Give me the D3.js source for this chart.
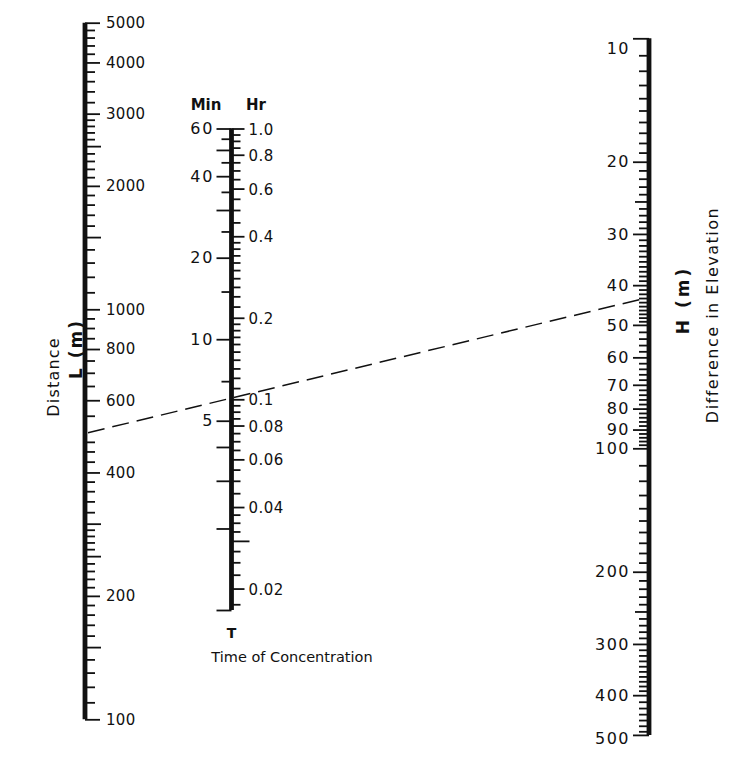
<!DOCTYPE html>
<html><head><meta charset="utf-8">
<script src="https://cdn.jsdelivr.net/npm/d3@7"></script>
<style>
html,body{margin:0;padding:0;background:#fff;}
text{font-family:"DejaVu Sans",sans-serif;fill:#111;}
</style></head><body>
<svg id="chart" width="750" height="773"></svg>
<script>
// ---------- DATA ----------
// Distance L (m)
const distanceLabels = [100, 200, 400, 600, 800, 1000, 2000, 3000, 4000, 5000];
const distanceMedium = [150, 250, 300, 1500, 2500];
const distanceMinor = [110,120,130,140,160,170,180,190,
  210,220,230,240,260,270,280,290,
  320,340,360,380, 425,450,475,
  550,650,700,750,850,900,950,
  1100,1200,1300,1400,1600,1700,1800,1900,
  2100,2200,2300,2400,2600,2700,2800,2900,
  3200,3400,3600,3800,4200,4400,4600,4800];
// Time of concentration T: minutes (left) and hours (right)
const minuteLabels = [5, 10, 20, 40, 60];
const minuteLong = [1, 2, 3, 4, 30, 50];
const minuteShort = [7, 15, 25, 35, 45, 55];
const hourLabels = [0.02, 0.04, 0.06, 0.08, 0.1, 0.2, 0.4, 0.6, 0.8, 1.0];
const hourLong = [0.03];
const hourMinor = [0.0175,0.0225,0.025,0.0275,0.0325,0.035,0.0375,
  0.045,0.05,0.055,0.065,0.07,0.075,0.085,0.09,0.095,
  0.11,0.12,0.13,0.14,0.15,0.16,0.17,0.18,0.19,
  0.22,0.24,0.26,0.28,0.30,0.32,0.34,0.36,0.38,
  0.45,0.5,0.55,0.65,0.7,0.75,0.85,0.9,0.95];
// Difference in elevation H (m)
const elevLabels = [10, 20, 30, 40, 50, 60, 70, 80, 90, 100, 200, 300, 400, 500];
const elevMedium = [25, 250];
const elevMinor = [11,12,13,14,15,16,17,18,19,
  21,22,23,24,26,27,28,29,
  31,32,33,34,35,36,37,38,39,
  41,42,43,44,45,46,47,48,49,
  52,54,56,58,62,64,66,68,72,74,76,78,82,84,86,88,92,94,96,98,
  110,120,130,140,150,160,170,180,190,
  210,220,230,240,260,270,280,290,
  310,320,330,340,350,360,370,380,390,
  415,430,445,460,475,490];
// Example solution line
const exampleL = 500;
const exampleH = 43;

// ---------- DRAW ----------
const svg = d3.select("#chart");
const xL = 85, xT = 231.5, xH = 649;

const lScale = d3.scaleLog().domain([100, 5000]).range([719.3, 22.7]);
const tScale = d3.scaleLog().domain([1, 60]).range([610, 128.5]);
const hScale = d3.scaleLog().domain([10, 500]).range([38.3, 734.9]);
const hrToMin = h => h * 60;

function ticks(axisFn, scale, values, x, len) {
  const g = svg.append("g").attr("transform", `translate(${x},0)`)
    .call(axisFn(scale).tickValues(values).tickSize(len).tickSizeOuter(0).tickFormat(""));
  g.select(".domain").remove();
  g.selectAll(".tick line").attr("stroke", "#111").attr("stroke-width", 1.8);
  return g;
}
function spine(x, scale, d0, d1, w) {
  svg.append("line").attr("x1", x).attr("x2", x)
    .attr("y1", scale(d0)).attr("y2", scale(d1))
    .attr("stroke", "#111").attr("stroke-width", w);
}

// L axis
spine(xL, lScale, 100, 5000, 4.8);
ticks(d3.axisRight, lScale, distanceMinor, xL, 10);
ticks(d3.axisRight, lScale, distanceMedium, xL, 16);
ticks(d3.axisRight, lScale, distanceLabels, xL, 15);
svg.append("g").selectAll("text").data(distanceLabels).join("text")
  .attr("x", xL + 21).attr("y", d => lScale(d)).attr("dy", "0.36em")
  .style("font-size", "15px").style("letter-spacing", "0.3px")
  .text(d => d);

// T axis
spine(xT, tScale, 1, 60, 4.8);
ticks(d3.axisLeft, tScale, minuteShort, xT, 10);
ticks(d3.axisLeft, tScale, minuteLong, xT, 15);
ticks(d3.axisLeft, tScale, minuteLabels, xT, 15);
ticks(d3.axisRight, tScale, hourMinor.map(hrToMin), xT, 9);
ticks(d3.axisRight, tScale, hourLong.map(hrToMin), xT, 18);
ticks(d3.axisRight, tScale, hourLabels.map(hrToMin), xT, 13);
svg.append("g").selectAll("text").data(minuteLabels).join("text")
  .attr("x", xT - 17).attr("y", d => tScale(d)).attr("dy", "0.36em")
  .attr("text-anchor", "end")
  .style("font-size", "16px").style("letter-spacing", "2px")
  .text(d => d);
svg.append("g").selectAll("text").data(hourLabels).join("text")
  .attr("x", xT + 17).attr("y", d => tScale(hrToMin(d))).attr("dy", "0.4em")
  .style("font-size", "15px").style("letter-spacing", "0.5px")
  .text(d => d3.format(".2~f")(d) === "1" ? "1.0" : String(d));
svg.append("text").attr("x", 206).attr("y", 110).attr("text-anchor", "middle")
  .style("font-size", "15px").style("font-weight", "bold").text("Min");
svg.append("text").attr("x", 256).attr("y", 110).attr("text-anchor", "middle")
  .style("font-size", "15px").style("font-weight", "bold").text("Hr");
svg.append("text").attr("x", xT).attr("y", 638).attr("text-anchor", "middle")
  .style("font-size", "14px").style("font-weight", "bold").text("T");
svg.append("text").attr("x", 292).attr("y", 662).attr("text-anchor", "middle")
  .style("font-size", "14.5px").text("Time of Concentration");

// H axis
spine(xH, hScale, 10, 500, 4.8);
ticks(d3.axisLeft, hScale, elevMinor, xH, 10);
ticks(d3.axisLeft, hScale, elevMedium, xH, 14);
ticks(d3.axisLeft, hScale, elevLabels, xH, 16);
svg.append("g").selectAll("text").data(elevLabels).join("text")
  .attr("x", xH - 19).attr("y", d => hScale(d))
  .attr("dy", (d, i) => i === 0 ? "1.0em" : (i === elevLabels.length - 1 ? "0.55em" : "0.36em"))
  .attr("text-anchor", "end")
  .style("font-size", "16px").style("letter-spacing", "1.5px")
  .text(d => d);

// Axis titles
svg.append("text").attr("transform", "translate(59,377) rotate(-90)")
  .attr("text-anchor", "middle").style("font-size", "16px").style("letter-spacing", "1.2px")
  .text("Distance");
svg.append("text").attr("transform", "translate(82,349) rotate(-90)")
  .attr("text-anchor", "middle").style("font-size", "17px").style("font-weight", "bold")
  .style("letter-spacing", "2px").text("L (m)");
svg.append("text").attr("transform", "translate(689,300) rotate(-90)")
  .attr("text-anchor", "middle").style("font-size", "17px").style("font-weight", "bold")
  .style("letter-spacing", "3px").text("H (m)");
svg.append("text").attr("transform", "translate(718,315) rotate(-90)")
  .attr("text-anchor", "middle").style("font-size", "16px").style("letter-spacing", "1.5px")
  .text("Difference in Elevation");

// Example dashed line
svg.append("line")
  .attr("x1", xL + 3).attr("y1", lScale(exampleL))
  .attr("x2", xH - 3).attr("y2", hScale(exampleH))
  .attr("stroke", "#111").attr("stroke-width", 1.5)
  .attr("stroke-dasharray", "17,8");
</script>
</body></html>
